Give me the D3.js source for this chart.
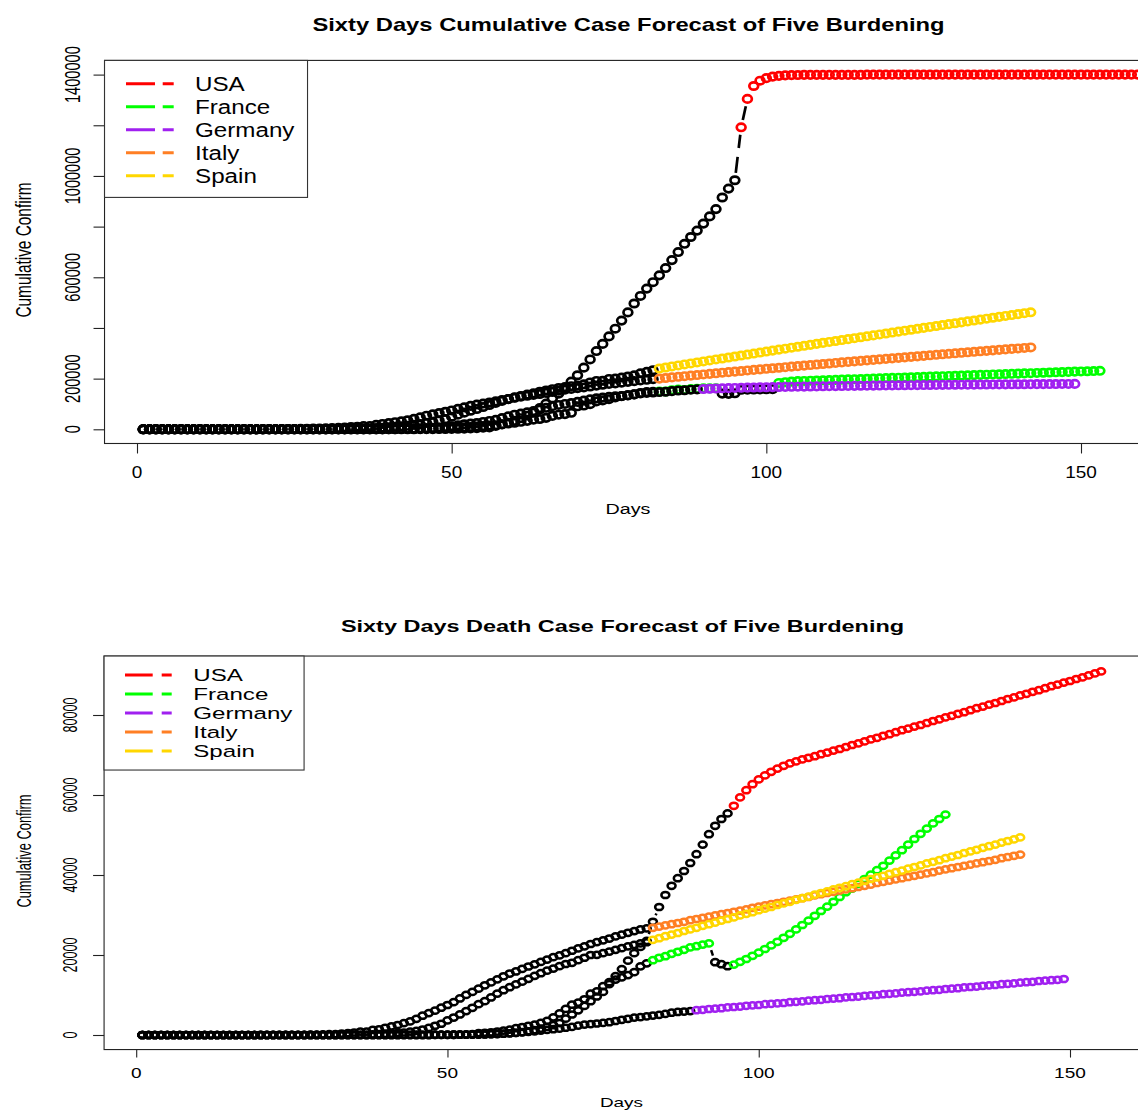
<!DOCTYPE html>
<html>
<head>
<meta charset="utf-8">
<title>Sixty Days Forecast of Five Burdening</title>
<script src="https://cdn.jsdelivr.net/npm/d3@7/dist/d3.min.js"></script>
<style>
html,body{margin:0;padding:0;background:#fff;}
svg{display:block;}
text{font-family:"Liberation Sans",Arial,Helvetica,sans-serif;fill:#000;}
</style>
</head>
<body>
<svg id="chart" width="1138" height="1110" viewBox="0 0 1138 1110"></svg>
<script>
// ---- legend / series identity ----
const countries = ["USA", "France", "Germany", "Italy", "Spain"];
const palette = ["#ff0000", "#00ff00", "#a020f0", "#ff7f24", "#ffd700"];

// ---- axis ticks ----
const dayTicks = [0, 50, 100, 150];
const dayTickLabels = ["0", "50", "100", "150"];
const caseTicks = [0, 200, 400, 600, 800, 1000, 1200, 1400];            // thousands
const caseTickLabels = ["0", "200000", "", "600000", "", "1000000", "", "1400000"];
const deathTicks = [0, 20, 40, 60, 80];                                  // thousands
const deathTickLabels = ["0", "20000", "40000", "60000", "80000"];

// ---- cumulative confirmed cases, thousands, day 1 onward ----
const casesUSA = [
  0,0,0,0,0,0,0,0,0,0,
  0,0,0,0,0,0,0,0,0,0,
  0,0,0,0,0,0,0,0,0,0.05,
  0.05,0.05,0.06,0.06,0.06,0.06,0.06,0.06,0.07,0.1,
  0.12,0.15,0.22,0.26,0.4,0.52,0.58,0.96,1.28,1.66,
  2.18,2.73,3.5,4.63,6.42,7.78,13.7,19.3,25.6,33.3,
  43.8,53.7,65.8,83.8,101.7,121.5,140.9,161.8,188.2,213.4,
  243.4,275.6,308.9,337.1,366.6,397,429.1,461.4,496.5,526.4,
  555.3,580.6,607.7,636.4,667.8,699.7,732.2,759.1,784.3,811.9,
  840.4,869.2,915,950,983,1192,1304,1355,1376,1386,
  1392,1395,1397,1398,1398.5,1399,1399,1399,1399,1399,
  1399,1399,1399,1399,1399,1400,1400,1400,1400,1400,
  1400,1400,1400,1400,1400,1400,1400,1400,1400,1400,
  1400,1400,1400,1400,1400,1400,1400,1400,1400,1400,
  1400,1400,1400,1400,1400,1400,1400,1400,1400,1400,
  1400,1400,1400,1400,1400,1400,1400,1400,1400,1400
];
const casesFrance = [
  0,0,0,0,0,0,0,0,0,0,
  0,0,0,0,0,0,0,0,0,0,
  0,0,0,0,0,0,0,0,0,0.01,
  0.014,0.018,0.038,0.057,0.1,0.13,0.19,0.2,0.29,0.38,
  0.66,0.96,1.14,1.22,1.79,2.29,2.29,3.68,4.5,4.53,
  6.68,7.72,9.12,10.97,12.76,14.46,16.24,20.12,22.62,25.6,
  29.55,33.4,38.1,40.7,45.2,52.8,57.7,59.9,65.2,90.8,
  93.8,99,110.1,114,118.8,125.9,130.7,133.7,137.9,143.3,
  147.1,148,149.1,149.2,154.1,156.5,155.4,158.6,159.9,161.6,
  161.7,162.2,141,140,142,156,156.5,157,157.5,158,
  158.5,183,186,188,190,190.9,191.8,192.6,193.5,194.3,
  195.2,196,196.9,197.7,198.6,199.4,200.3,201.1,202,202.8,
  203.7,204.5,205.4,206.2,207.1,207.9,208.8,209.6,210.5,211.3,
  212.2,213,213.9,214.7,215.6,216.4,217.3,218.1,219,219.8,
  220.7,221.5,222.4,223.2,224.1,224.9,225.8,226.6,227.5,228.3,
  229.2,230,230.9
];
const casesGermany = [
  0,0,0,0,0,0,0,0,0,0,
  0,0,0,0,0,0,0,0,0,0,
  0,0,0,0,0,0,0,0,0,0,
  0,0,0.13,0.16,0.2,0.26,0.48,0.67,0.8,1.04,
  1.18,1.46,1.91,2.08,3.68,4.59,5.8,7.27,9.26,12.33,
  15.32,19.85,22.21,24.87,29.06,32.99,37.32,43.94,50.87,57.7,
  62.1,66.9,71.8,77.9,84.8,91.2,96.1,100.1,103.4,108.2,
  113.3,118.2,122.2,125,127.9,130.1,131.4,134.8,137.7,141.4,
  143.7,145.2,147.1,148.3,150.6,153.1,154.2,156.3,157.6,159,
  160,161,161.8,162.5,163.2,163.8,164.4,165,165.5,166,
  166.5,167,167.4,167.8,168.2,168.6,169,169.4,169.8,170.1,
  170.5,170.8,171.2,171.5,171.8,172.1,172.4,172.7,173,173.3,
  173.6,173.9,174.1,174.4,174.6,174.9,175.1,175.4,175.6,175.8,
  176,176.2,176.4,176.6,176.8,177,177.2,177.4,177.6,177.8,
  177.9,178.1,178.3,178.4,178.6,178.7,178.9,179,179.2
];
const casesItaly = [
  0,0,0,0,0,0,0,0,0,0,
  0,0,0,0,0,0,0.02,0.06,0.16,0.23,
  0.32,0.45,0.66,0.89,1.13,1.69,2.04,2.5,3.09,3.86,
  4.64,5.88,7.38,9.17,10.15,12.46,12.46,17.66,21.16,24.75,
  27.98,31.5,35.7,41,47,53.6,59.1,63.9,69.2,74.4,
  80.6,86.5,92.5,97.7,101.7,105.8,110.6,115.2,119.8,124.6,
  128.9,132.5,135.6,139.4,143.6,147.6,152.3,156.4,159.5,162.5,
  165.2,168.9,172.4,175.9,179,181.2,184,187.3,190,193,
  195.4,197.7,200,202.4,204.8,207.2,209.6,211.9,214.2,216.5,
  218.8,221.1,223.4,225.6,227.8,230,232.2,234.4,236.6,238.8,
  240.9,243,245.1,247.2,249.3,251.4,253.5,255.6,257.7,259.8,
  261.9,264,266,268,270,272,274,276,278,280,
  282,284,286,288,290,292,294,296,298,300,
  302,304,305.9,307.8,309.7,311.6,313.5,315.4,317.3,319.2,
  321.1,323
];
const casesSpain = [
  0,0,0,0,0,0,0,0,0,0,
  0,0,0,0,0,0,0,0,0,0,
  0,0,0,0,0.05,0.08,0.12,0.17,0.22,0.26,
  0.4,0.5,0.67,1.07,1.7,2.28,2.28,5.23,6.39,7.8,
  9.94,11.75,13.9,17.96,20.4,25.4,28.8,35.1,39.9,49.5,
  57.8,65.7,73.2,80.1,88,95.9,104.1,112.1,119.2,126.2,
  131.6,136.7,141.9,148.2,153.2,158.3,163,166.8,170.1,172.5,
  177.6,184.9,190.8,191.7,198.7,200.2,204.2,208.4,213,221,
  227,233,240,244,248,252,256,260,263.9,267.8,
  271.7,275.6,279.5,283.4,287.3,291.2,295.1,299,302.9,306.8,
  310.6,314.4,318.2,322,325.8,329.6,333.4,337.2,341,344.8,
  348.5,352.2,355.9,359.6,363.3,367,370.7,374.4,378.1,381.8,
  385.5,389.2,392.9,396.6,400.3,404,407.7,411.4,415,418.6,
  422.2,425.8,429.4,433,436.6,440.2,443.8,447.4,451,454.6,
  458.2,461.8
];

// ---- cumulative deaths, thousands, day 1 onward ----
const deathsUSA = [
  0,0,0,0,0,0,0,0,0,0,
  0,0,0,0,0,0,0,0,0,0,
  0,0,0,0,0,0,0,0,0,0,
  0,0,0,0,0,0,0,0,0,0,
  0,0,0,0,0,0,0,0.03,0.04,0.04,
  0.05,0.06,0.06,0.09,0.11,0.12,0.2,0.24,0.31,0.43,
  0.55,0.71,0.94,1.21,1.58,2.03,2.47,2.98,4.08,5.12,
  6.17,7.28,8.45,9.62,10.78,12.72,14.7,16.48,18.59,20.46,
  22.02,23.53,28.3,32,35,37.3,39.2,41,43,45.2,
  47.6,50.2,52.3,54,55.4,57.3,59.4,61.2,62.7,63.9,
  64.9,65.8,66.6,67.3,67.9,68.4,68.9,69.3,69.7,70.2,
  70.6,71.1,71.5,72,72.5,72.9,73.4,73.9,74.3,74.8,
  75.2,75.7,76.2,76.6,77.1,77.5,78,78.5,78.9,79.4,
  79.8,80.3,80.7,81.2,81.7,82.1,82.6,83,83.5,84,
  84.4,84.9,85.3,85.8,86.2,86.7,87.2,87.6,88.1,88.5,
  89,89.4,89.9,90.4,90.9
];
const deathsFrance = [
  0,0,0,0,0,0,0,0,0,0,
  0,0,0,0,0,0,0,0,0,0,
  0,0,0,0,0,0,0,0,0,0,
  0,0,0,0,0,0,0,0,0,0,
  0.003,0.004,0.019,0.019,0.033,0.048,0.048,0.079,0.091,0.091,
  0.149,0.149,0.149,0.244,0.451,0.563,0.676,0.862,1.102,1.333,
  1.698,1.997,2.317,2.611,3.03,3.532,4.414,5.398,6.52,7.574,
  8.093,8.926,10.343,10.887,12.228,13.215,13.851,14.412,14.986,15.712,
  17.167,17.92,18.7,19.3,19.7,20.3,20.8,21.3,21.9,22.2,
  22.6,22.9,18.2,17.7,17.2,17.6,18.3,19,19.8,20.6,
  21.5,22.4,23.3,24.3,25.3,26.4,27.5,28.6,29.8,31,
  32.1,33.3,34.5,35.7,36.6,37.8,39,40.1,41.2,42.3,
  43.6,44.9,46.2,47.6,49,50.3,51.6,52.9,54,55.1
];
const deathsGermany = [
  0,0,0,0,0,0,0,0,0,0,
  0,0,0,0,0,0,0,0,0,0,
  0,0,0,0,0,0,0,0,0,0,
  0,0,0,0,0,0,0,0,0,0,
  0.002,0.002,0.003,0.003,0.007,0.009,0.012,0.017,0.024,0.028,
  0.044,0.067,0.084,0.094,0.123,0.157,0.206,0.267,0.342,0.433,
  0.533,0.645,0.775,0.931,1.107,1.275,1.444,1.584,1.81,2.016,
  2.349,2.607,2.736,2.871,3.022,3.194,3.495,3.804,4.052,4.352,
  4.459,4.642,4.862,5.033,5.279,5.575,5.76,5.865,5.976,6.2,
  6.3,6.5,6.6,6.7,6.9,7,7.1,7.3,7.4,7.5,
  7.7,7.8,7.9,8,8.2,8.3,8.4,8.6,8.7,8.8,
  9,9.1,9.2,9.4,9.5,9.6,9.8,9.9,10,10.2,
  10.3,10.4,10.6,10.7,10.8,10.9,11.1,11.2,11.3,11.5,
  11.6,11.7,11.9,12,12.1,12.3,12.4,12.5,12.7,12.8,
  12.9,13.1,13.2,13.3,13.5,13.6,13.7,13.8,14
];
const deathsItaly = [
  0,0,0,0,0,0,0,0,0,0,
  0,0,0,0,0,0,0.001,0.002,0.003,0.007,
  0.01,0.012,0.017,0.021,0.029,0.034,0.052,0.079,0.107,0.148,
  0.197,0.233,0.366,0.463,0.631,0.827,0.827,1.266,1.441,1.809,
  2.158,2.503,2.978,3.405,4.032,4.825,5.476,6.077,6.82,7.503,
  8.215,9.134,10.023,10.779,11.591,12.428,13.155,13.915,14.681,15.362,
  15.887,16.523,17.127,17.669,18.279,18.849,19.468,19.899,20.465,21.067,
  21.645,22.17,22.745,23.227,23.66,24.114,24.648,25.085,25.549,25.969,
  26.384,26.644,26.8,27.1,27.4,27.7,28,28.3,28.7,29,
  29.3,29.6,29.9,30.2,30.5,30.8,31.1,31.4,31.8,32.1,
  32.4,32.7,33,33.3,33.6,33.9,34.2,34.5,34.9,35.2,
  35.5,35.8,36.1,36.4,36.7,37,37.3,37.6,38,38.3,
  38.6,38.9,39.2,39.5,39.8,40.1,40.4,40.7,41.1,41.4,
  41.7,42,42.3,42.6,42.9,43.2,43.5,43.8,44.2,44.5,
  44.8,45.1
];
const deathsSpain = [
  0,0,0,0,0,0,0,0,0,0,
  0,0,0,0,0,0,0,0,0,0,
  0,0,0,0,0,0,0,0,0,0.003,
  0.005,0.01,0.017,0.028,0.035,0.054,0.055,0.133,0.195,0.289,
  0.342,0.533,0.623,0.83,1.043,1.375,1.772,2.311,2.808,3.647,
  4.365,5.138,5.982,6.803,7.716,8.464,9.387,10.348,11.198,11.947,
  12.641,13.341,14.045,14.792,15.447,16.081,16.606,17.209,17.756,18.056,
  18.708,19.315,20.002,20.043,20.453,20.852,21.282,21.717,22.157,22.524,
  22.902,23.19,23.8,24.2,24.7,25.1,25.5,26,26.4,26.8,
  27.3,27.7,28.1,28.6,29,29.4,29.9,30.3,30.7,31.2,
  31.6,32,32.5,32.9,33.3,33.8,34.2,34.6,35.1,35.5,
  35.9,36.4,36.8,37.2,37.7,38.1,38.5,39,39.4,39.8,
  40.3,40.7,41.1,41.6,42,42.4,42.9,43.3,43.7,44.2,
  44.6,45,45.5,45.9,46.3,46.8,47.2,47.6,48.1,48.5,
  48.9,49.4
];

// last observed day of each series (later days are the forecast colour)
const caseHistoryEnd = [95, 82, 89, 82, 82];
const deathHistoryEnd = [95, 82, 89, 82, 82];
// France days printed in black inside its coloured run
const caseFranceBlackDays = [93, 94, 95, 96, 97, 98, 99, 100, 101];
const deathFranceBlackDays = [93, 94, 95];

// ------------------------------------------------------------------
const svg = d3.select("#chart");

// widen a text run horizontally by factor k
function widen(sel, k) {
  sel.each(function () {
    const w = this.getComputedTextLength();
    if (w > 0) {
      this.setAttribute("textLength", (w * k).toFixed(2));
      this.setAttribute("lengthAdjust", "spacingAndGlyphs");
    }
  });
}

function drawPanel(cfg) {
  const g = svg.append("g");
  const x = cfg.x, y = cfg.y;
  const left = x(cfg.xExt[0]), right = x(cfg.xExt[1]);
  const top = y(cfg.yExt[1]), bottom = y(cfg.yExt[0]);

  const colourOf = (ci, day) => {
    if (day <= cfg.histEnd[ci]) return "#000";
    if (ci === 1 && cfg.franceBlack.includes(day)) return "#000";
    return palette[ci];
  };

  // plot frame
  g.append("rect")
    .attr("x", left).attr("y", top)
    .attr("width", right - left).attr("height", bottom - top)
    .attr("fill", "none").attr("stroke", "#222").attr("stroke-width", 1.1);

  // x axis ticks + labels
  const ax = g.append("g").attr("transform", `translate(0,${bottom})`)
    .call(d3.axisBottom(x).tickValues(dayTicks).tickSize(cfg.tickLen).tickFormat(""));
  ax.select(".domain").remove();
  ax.selectAll("line").attr("stroke", "#222").attr("stroke-width", 1.1);
  g.append("g").selectAll("text").data(dayTicks).join("text")
    .attr("x", d => x(d)).attr("y", cfg.xLabelY)
    .attr("text-anchor", "middle").attr("font-size", cfg.xLabelSize)
    .text((d, i) => dayTickLabels[i])
    .call(widen, cfg.xLabelK);

  // y axis ticks + rotated labels
  const ay = g.append("g").attr("transform", `translate(${left},0)`)
    .call(d3.axisLeft(y).tickValues(cfg.yTicks).tickSize(cfg.yTickLen).tickFormat(""));
  ay.select(".domain").remove();
  ay.selectAll("line").attr("stroke", "#222").attr("stroke-width", 1.1);
  g.append("g").selectAll("text").data(cfg.yTicks).join("text")
    .attr("transform", d => `translate(${cfg.yLabelX},${y(d)}) scale(${cfg.yLabelSx},1) rotate(-90)`)
    .attr("text-anchor", "middle").attr("font-size", cfg.yLabelSize)
    .text((d, i) => cfg.yTickLabels[i]);

  // titles
  g.append("text").attr("x", cfg.titleX).attr("y", cfg.titleY)
    .attr("text-anchor", "middle").attr("font-weight", "bold")
    .attr("font-size", cfg.titleSize).text(cfg.title)
    .call(widen, cfg.titleK);
  g.append("text").attr("x", cfg.daysX).attr("y", cfg.daysY)
    .attr("text-anchor", "middle").attr("font-size", cfg.daysSize).text("Days")
    .call(widen, cfg.daysK);
  g.append("text")
    .attr("transform", `translate(${cfg.yTitleX},${cfg.yTitleY}) scale(${cfg.yTitleSx},1) rotate(-90)`)
    .attr("text-anchor", "middle").attr("font-size", cfg.yTitleSize).text("Cumulative Confirm");

  // series: broken dashed connectors, then open circles
  const gap = cfg.gap;
  cfg.series.forEach((vals, ci) => {
    const pts = vals.map((v, i) => ({ px: x(i + 1), py: y(v), c: colourOf(ci, i + 1) }));
    const segs = [];
    for (let i = 0; i < pts.length - 1; i++) {
      const a = pts[i], b = pts[i + 1];
      const dx = b.px - a.px, dy = b.py - a.py, L = Math.hypot(dx, dy);
      if (L > 2 * gap) {
        segs.push({ x1: a.px + dx / L * gap, y1: a.py + dy / L * gap,
                    x2: b.px - dx / L * gap, y2: b.py - dy / L * gap });
      }
    }
    const sg = g.append("g");
    sg.selectAll("line").data(segs).join("line")
      .attr("x1", d => d.x1).attr("y1", d => d.y1)
      .attr("x2", d => d.x2).attr("y2", d => d.y2)
      .attr("stroke", "#000").attr("stroke-width", cfg.sw)
      .attr("stroke-dasharray", cfg.dash);
    sg.selectAll("ellipse").data(pts).join("ellipse")
      .attr("cx", d => d.px).attr("cy", d => d.py)
      .attr("rx", cfg.rx).attr("ry", cfg.ry)
      .attr("fill", "none").attr("stroke", d => d.c).attr("stroke-width", cfg.sw);
  });

  // legend
  const lg = g.append("g");
  lg.append("rect").attr("x", left).attr("y", top)
    .attr("width", cfg.legW).attr("height", cfg.legH)
    .attr("fill", "#fff").attr("stroke", "#333").attr("stroke-width", 1.1);
  countries.forEach((name, i) => {
    const ry = cfg.legRow0 + i * cfg.legStep;
    lg.append("line").attr("x1", cfg.legLineX[0]).attr("x2", cfg.legLineX[1])
      .attr("y1", ry).attr("y2", ry)
      .attr("stroke", palette[i]).attr("stroke-width", 3)
      .attr("stroke-dasharray", cfg.legDash);
    lg.append("text").attr("x", cfg.legTextX).attr("y", ry + cfg.legTextDy)
      .attr("font-size", cfg.legSize).text(name)
      .call(widen, cfg.legK);
  });
}

// cumulative cases panel
drawPanel({
  x: d3.scaleLinear().domain([0, 150]).range([137, 1081]),
  y: d3.scaleLinear().domain([0, 1400]).range([429.3, 74.6]),
  xExt: [-5.16, 161.16], yExt: [-56, 1456],
  yTicks: caseTicks, yTickLabels: caseTickLabels,
  series: [casesUSA, casesFrance, casesGermany, casesItaly, casesSpain],
  histEnd: caseHistoryEnd, franceBlack: caseFranceBlackDays,
  tickLen: 10, yTickLen: 11,
  xLabelY: 477.5, xLabelSize: 16.5, xLabelK: 1.15,
  yLabelX: 80, yLabelSize: 14.6, yLabelSx: 1.5,
  title: "Sixty Days Cumulative Case Forecast of Five Burdening",
  titleX: 628.5, titleY: 31, titleSize: 19, titleK: 1.25,
  daysX: 628, daysY: 514, daysSize: 15.5, daysK: 1.27,
  yTitleX: 31, yTitleY: 250, yTitleSize: 15.4, yTitleSx: 1.45,
  rx: 4.4, ry: 3.7, sw: 2.7, gap: 7.5, dash: "16,9",
  legW: 203, legH: 137, legRow0: 83.7, legStep: 23,
  legLineX: [126, 173.7], legDash: "29,7.7,11,50",
  legTextX: 195, legTextDy: 7, legSize: 19.5, legK: 1.24
});

// deaths panel
drawPanel({
  x: d3.scaleLinear().domain([0, 150]).range([136.2, 1070]),
  y: d3.scaleLinear().domain([0, 80]).range([1035, 715]),
  xExt: [-5.16, 161.16], yExt: [-3.64, 94.74],
  yTicks: deathTicks, yTickLabels: deathTickLabels,
  series: [deathsUSA, deathsFrance, deathsGermany, deathsItaly, deathsSpain],
  histEnd: deathHistoryEnd, franceBlack: deathFranceBlackDays,
  tickLen: 8, yTickLen: 11,
  xLabelY: 1077.7, xLabelSize: 14, xLabelK: 1.36,
  yLabelX: 77.3, yLabelSize: 12.6, yLabelSx: 1.66,
  title: "Sixty Days Death Case Forecast of Five Burdening",
  titleX: 622.5, titleY: 631.7, titleSize: 17, titleK: 1.38,
  daysX: 621.5, daysY: 1107.3, daysSize: 13.5, daysK: 1.4,
  yTitleX: 31, yTitleY: 851, yTitleSize: 12.9, yTitleSx: 1.6,
  rx: 4.0, ry: 3.1, sw: 2.5, gap: 7, dash: "14,8",
  legW: 200, legH: 114, legRow0: 675, legStep: 19,
  legLineX: [125, 171.7], legDash: "27.7,9,10,50",
  legTextX: 193.3, legTextDy: 6, legSize: 16.3, legK: 1.48
});
</script>
</body>
</html>
